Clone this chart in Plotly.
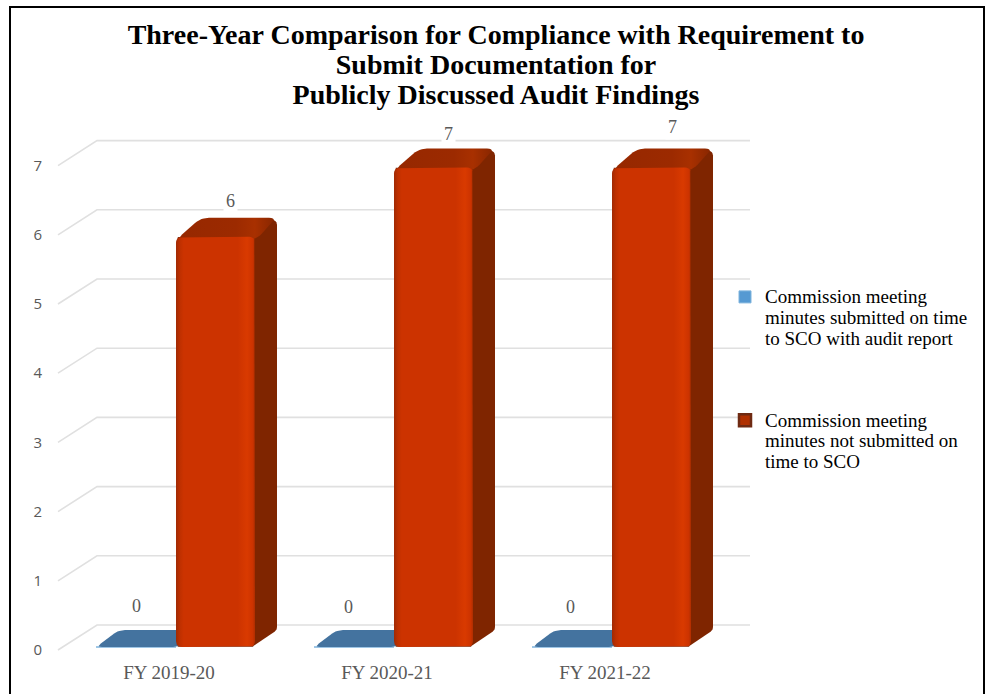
import plotly.graph_objects as go
import math

# ---- data ----
categories = ["FY 2019-20", "FY 2020-21", "FY 2021-22"]
on_time = [0, 0, 0]
not_on_time = [6, 7, 7]
y_ticks = [0, 1, 2, 3, 4, 5, 6, 7]
series_names = [
    ["Commission meeting", "minutes submitted on time", "to SCO with audit report"],
    ["Commission meeting", "minutes not submitted on", "time to SCO"],
]
title_lines = ["Three-Year Comparison for Compliance with Requirement to",
               "Submit Documentation for", "Publicly Discussed Audit Findings"]


def sized(lines, px, bold=False):
    """Base font size sets line spacing; the span sets the glyph size."""
    parts = []
    for s in lines:
        t = f"<span style='font-size:{px}px'>{s}</span>"
        parts.append(f"<b>{t}</b>" if bold else t)
    return "<br>".join(parts)


# ---- oblique projection, in pixels per axis unit ----
W, H = 988, 694
PX_X = 218.0      # px between categories
PX_Y = 69.2       # px per value
X0_PX, Y0_PX = 169.0, 650.0   # where category 0 / value 0 lands
L, R, T, B = 43, 760, 118, 659  # plot area in the page


def ux(dpx):
    return dpx / PX_X


def uy(dpx):
    return dpx / PX_Y


def rounded(pts, r):
    """Round the corners of a polygon given as px offsets."""
    out = []
    n = len(pts)
    for i in range(n):
        p0, p1, p2 = pts[i - 1], pts[i], pts[(i + 1) % n]
        a = (p0[0] - p1[0], p0[1] - p1[1])
        b = (p2[0] - p1[0], p2[1] - p1[1])
        la, lb = math.hypot(*a), math.hypot(*b)
        rr = min(r, la / 2, lb / 2)
        a = (a[0] / la, a[1] / la)
        b = (b[0] / lb, b[1] / lb)
        for k in range(7):
            t = k / 6
            s = (1 - t) ** 2
            e = t ** 2
            out.append((p1[0] + s * a[0] * rr + e * b[0] * rr,
                        p1[1] + s * a[1] * rr + e * b[1] * rr))
    out.append(out[0])
    return out


def poly_trace(cat, val, pts, r, color, gradient=None):
    """pts: px offsets from (category, value); +x right, +y up."""
    ring = rounded(pts, r)
    xs = [cat + ux(p[0]) for p in ring]
    ys = [val + uy(p[1]) for p in ring]
    kw = dict(fillcolor=color)
    if gradient:
        kw = dict(fillgradient=dict(type="horizontal", colorscale=gradient,
                                    start=min(xs), stop=max(xs)))
    return go.Scatter(x=xs, y=ys, mode="lines", fill="toself", line=dict(width=0),
                      hoverinfo="skip", showlegend=False, **kw)


RED_L, RED_W = 7.0, 79.0
BLUE_L, BLUE_W = -73.0, 80.0
DX, DY = 22.0, 19.0
LIFT_BOTTOM, LIFT_TOP = 3.0, -2.0

FRONT_GRAD = [[0, "#a02a04"], [0.05, "#bf3000"], [0.1, "#cc3300"], [0.78, "#cc3300"],
              [0.9, "#d93a00"], [0.97, "#cc3300"], [1, "#b02e00"]]
TOP_GRAD = [[0, "#962800"], [0.6, "#9c2a00"], [0.8, "#a83000"], [1, "#8a2700"]]

fig = go.Figure()

# Legend carriers and the front of the red columns come from real bars
fig.add_bar(x=list(range(len(categories))), y=on_time, base=uy(LIFT_BOTTOM),
            offset=ux(BLUE_L), width=ux(BLUE_W), name=sized(series_names[0], 19),
            legendgroup="a",
            marker=dict(color="#5599d2", line=dict(color="#7fb4dd", width=1)))
fig.add_bar(x=list(range(len(categories))),
            y=[v - uy(LIFT_BOTTOM - LIFT_TOP) - uy(3) for v in not_on_time],
            base=uy(LIFT_BOTTOM + 1.5),
            offset=ux(RED_L + 3), width=ux(RED_W - 6), name=sized(series_names[1], 19),
            legendgroup="b",
            marker=dict(color="#b03000", line=dict(color="#6f2a12", width=2.5)))

for i, (b, r) in enumerate(zip(on_time, not_on_time)):
    # blue: only its flat top is visible
    by = LIFT_BOTTOM
    fig.add_trace(poly_trace(i, b, [
        (BLUE_L, by), (BLUE_L + BLUE_W + 3, by),
        (BLUE_L + BLUE_W + 3 + DX, by + DY - 2), (BLUE_L + DX + 1, by + DY - 2)],
        6, "#44739f"))
    top = LIFT_TOP
    rl, rr = RED_L, RED_L + RED_W
    # side face
    ring = [(rr - 3, -r * PX_Y + LIFT_BOTTOM), (rr + DX, -r * PX_Y + LIFT_BOTTOM + DY - 2),
            (rr + DX, top + DY - 4), (rr + DX - 7, top + DY), (rr - 3, top)]
    fig.add_trace(poly_trace(i, r, ring, 3, "#7f2500"))
    # top face
    fig.add_trace(poly_trace(i, r, [
        (rl, top - 3), (rr + 1, top - 3), (rr + DX, top + DY), (rl + DX + 3, top + DY)],
        8, "#9c2a00", TOP_GRAD))
    # shaded front
    fig.add_trace(poly_trace(i, r, [
        (rl, -r * PX_Y + LIFT_BOTTOM), (rr, -r * PX_Y + LIFT_BOTTOM), (rr, top), (rl, top)],
        6, "#cc3300", FRONT_GRAD))

# oblique gridlines (below the marks)
shapes = []
for v in y_ticks:
    x_front, x_back, x_end = ux(58 - X0_PX), ux(97 - X0_PX), ux(750 - X0_PX)
    y_back = v + uy(25)
    shapes.append(dict(type="path", xref="x", yref="y", layer="below",
                       path=f"M{x_front},{v} L{x_back},{y_back} L{x_end},{y_back}",
                       line=dict(color="#e0e0e0", width=1.6)))

# frame, open at the bottom of the page
shapes.append(dict(type="path", xref="paper", yref="paper",
                   path=f"M{10/W},0 L{10/W},{1-7/H} L{984/W},{1-7/H} L{984/W},0",
                   line=dict(color="#000000", width=2)))

# data labels
label_font = dict(family="Liberation Serif", size=18, color="#595959")
annotations = []
blue_shift = [(-33, 44), (-39, 43), (-35, 43)]
red_shift = [(61, 34), (61, 32), (67, 39)]
for i, (b, r) in enumerate(zip(on_time, not_on_time)):
    for v, (sx, sy) in ((b, blue_shift[i]), (r, red_shift[i])):
        annotations.append(dict(x=i, y=v, text=str(v), showarrow=False, xshift=sx, yshift=sy,
                                font=label_font, bgcolor="#ffffff", borderpad=2))

fig.update_layout(
    width=W, height=H, margin=dict(l=0, r=0, t=0, b=0),
    paper_bgcolor="#ffffff", plot_bgcolor="rgba(0,0,0,0)",
    barmode="overlay",
    title=dict(text=sized(title_lines, 28, bold=True), x=496 / W, xanchor="center",
               y=1 - 44 / H, yanchor="top",
               font=dict(family="Liberation Serif", size=23, color="#000000")),
    xaxis=dict(domain=[L / W, R / W], range=[ux(L - X0_PX), ux(R - X0_PX)],
               tickmode="array", tickvals=list(range(len(categories))), ticktext=categories,
               showgrid=False, zeroline=False, showline=False, ticks="",
               tickfont=dict(family="Liberation Serif", size=19, color="#595959")),
    yaxis=dict(domain=[1 - B / H, 1 - T / H],
               range=[(Y0_PX - B) / PX_Y, (Y0_PX - T) / PX_Y],
               tickmode="array", tickvals=y_ticks, showgrid=False, zeroline=False,
               showline=False, ticks="",
               tickfont=dict(family="Open Sans", size=15, color="#595959")),
    legend=dict(x=725 / W, xanchor="left", y=1 - 280 / H, yanchor="top",
                tracegroupgap=58, traceorder="grouped", valign="top",
                font=dict(family="Liberation Serif", size=16, color="#000000"),
                bgcolor="rgba(0,0,0,0)", groupclick="toggleitem"),
    shapes=shapes, annotations=annotations,
)

fig.write_html("out.html", config=dict(displayModeBar=False),
               post_script="document.body.style.margin='0';")
